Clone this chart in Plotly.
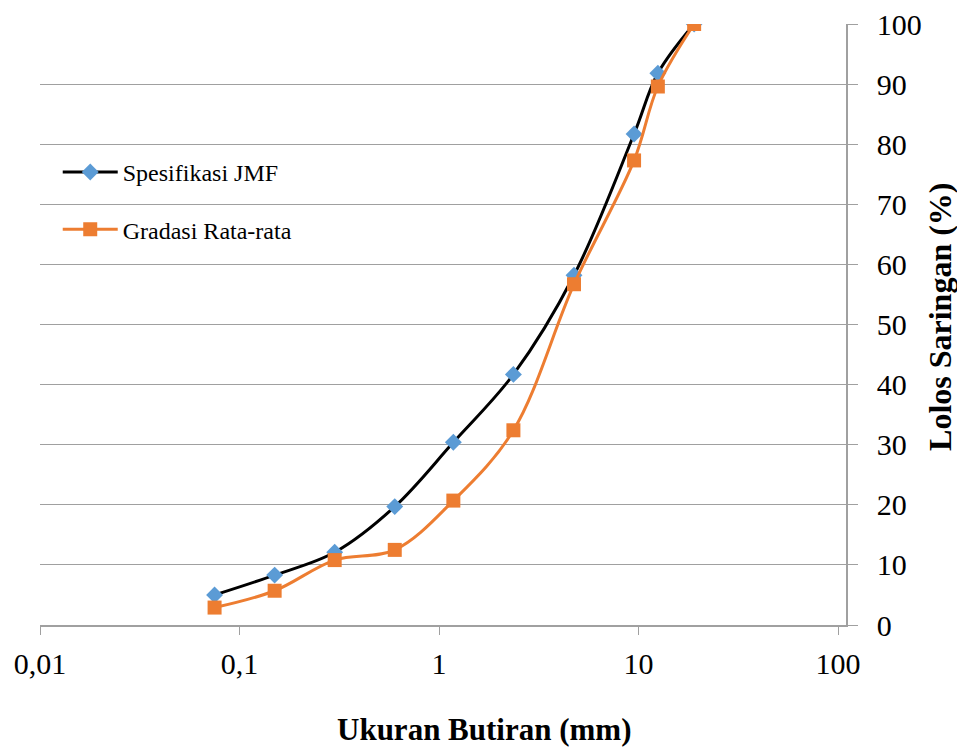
import plotly.graph_objects as go

sieve_mm = [0.075, 0.15, 0.3, 0.6, 1.18, 2.36, 4.75, 9.5, 12.5, 19]
jmf = [5.0, 8.3, 12.1, 19.7, 30.4, 41.7, 58.2, 81.7, 91.8, 100]
gradasi = [2.9, 5.7, 10.8, 12.5, 20.7, 32.4, 56.7, 77.3, 89.6, 100]

x_tickvals = [0.01, 0.1, 1, 10, 100]
x_ticktext = ["0,01", "0,1", "1", "10", "100"]
y_tickvals = list(range(0, 101, 10))

FONT = "Liberation Serif"
GRID = "#A0A0A0"

fig = go.Figure()
fig.add_trace(go.Scatter(
    x=sieve_mm, y=jmf, name="Spesifikasi JMF", mode="lines+markers",
    line=dict(color="black", width=3, shape="spline", smoothing=1),
    marker=dict(symbol="diamond", size=13, color="#5B9BD5"),
    legend="legend", showlegend=True,
))
fig.add_trace(go.Scatter(
    x=sieve_mm, y=gradasi, name="Gradasi Rata-rata", mode="lines+markers",
    line=dict(color="#ED7D31", width=3, shape="spline", smoothing=1),
    marker=dict(symbol="square", size=14, color="#ED7D31"),
    legend="legend2", showlegend=True,
))

fig.update_layout(
    width=957, height=752,
    margin=dict(l=40, r=111, t=24, b=127, autoexpand=False),
    paper_bgcolor="white", plot_bgcolor="white",
    font=dict(family=FONT, color="black"),
    showlegend=True,
    legend=dict(x=0.022, y=0.753, xanchor="left", yanchor="middle",
                bgcolor="rgba(0,0,0,0)", font=dict(size=24, family=FONT),
                itemwidth=55, visible=True),
    legend2=dict(x=0.022, y=0.658, xanchor="left", yanchor="middle",
                 bgcolor="rgba(0,0,0,0)", font=dict(size=24, family=FONT),
                 itemwidth=55, visible=True),
    xaxis=dict(
        type="log", range=[-2, 2.04], automargin=False,
        tickvals=x_tickvals, ticktext=x_ticktext,
        tickfont=dict(size=30, family=FONT),
        ticks="outside", ticklen=8, tickcolor=GRID,
        ticklabelstandoff=3,
        showline=True, linecolor=GRID, linewidth=1.5,
        showgrid=False, zeroline=False,
    ),
    yaxis=dict(
        side="right", range=[0, 100], automargin=False,
        tickvals=y_tickvals,
        tickfont=dict(size=30, family=FONT),
        ticks="outside", ticklen=10, tickcolor=GRID,
        ticklabelstandoff=13,
        showline=True, linecolor=GRID, linewidth=1.5,
        showgrid=True, gridcolor=GRID, gridwidth=1.3,
        zeroline=False,
    ),
    annotations=[
        dict(text="<b>Ukuran Butiran (mm)</b>", xref="paper", yref="paper",
             x=0.552, y=-0.2063, xanchor="center", yanchor="bottom",
             showarrow=False, font=dict(size=31, family=FONT)),
        dict(text="<b>Lolos Saringan (%)</b>", xref="paper", yref="paper",
             x=1.1166, y=0.5125, xanchor="center", yanchor="middle", textangle=-90,
             showarrow=False, font=dict(size=32, family=FONT)),
    ],
)

fig.write_html("out.html")
